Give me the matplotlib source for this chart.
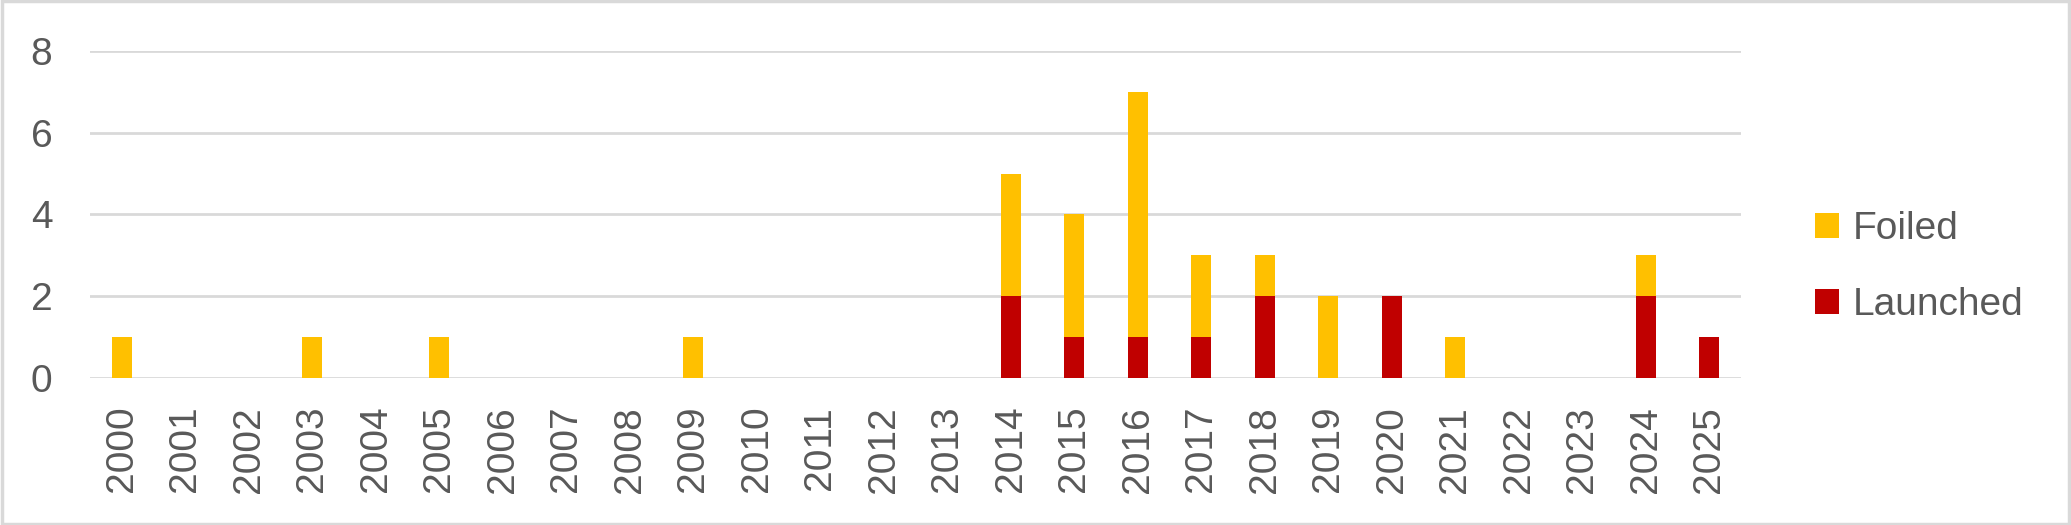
import matplotlib.pyplot as plt
import numpy as np
from matplotlib.patches import Rectangle

years = [str(y) for y in range(2000, 2026)]
launched = [0, 0, 0, 0, 0, 0, 0, 0, 0, 0, 0, 0, 0, 0, 2, 1, 1, 1, 2, 0, 2, 0, 0, 0, 2, 1]
foiled = [1, 0, 0, 1, 0, 1, 0, 0, 0, 1, 0, 0, 0, 0, 3, 3, 6, 2, 1, 2, 0, 1, 0, 0, 1, 0]

text_col = "#595959"
grid_col = "#D9D9D9"
plt.rcParams['font.family'] = ['Liberation Sans', 'DejaVu Sans']

W, H = 2071, 525
fig = plt.figure(figsize=(W / 100, H / 100), dpi=100)
ax = fig.add_axes([90 / W, (H - 378) / H, (1741 - 90) / W, (378 - 51) / H])

x = np.arange(len(years))
b1 = ax.bar(x, launched, width=0.31, color="#C00000", label="Launched", zorder=3)
b2 = ax.bar(x, foiled, width=0.31, bottom=launched, color="#FFC000", label="Foiled", zorder=3)

ax.set_xlim(-0.5, len(years) - 0.5)
ax.set_ylim(0, 8)
ax.set_yticks([0, 2, 4, 6, 8])
ax.set_xticks(x)
ax.set_xticklabels(years, rotation=90)
ax.tick_params(axis='both', length=0, labelsize=28, colors=text_col)
ax.tick_params(axis='x', pad=20)
ax.tick_params(axis='y', pad=27)
ax.grid(axis='y', color=grid_col, linewidth=2, zorder=0)
for s in ax.spines.values():
    s.set_visible(False)

leg = fig.legend([b2, b1], ["Foiled", "Launched"], loc='upper left',
                 bbox_to_anchor=(1796 / W, 1 - 192 / H), frameon=False,
                 fontsize=28, handlelength=0.6, handleheight=0.6,
                 handletextpad=0.35, labelspacing=1.02, borderpad=0)
for t in leg.get_texts():
    t.set_color(text_col)

fig.patches.append(Rectangle((0.001, 0.002), 0.998, 0.996, transform=fig.transFigure,
                             fill=False, edgecolor=grid_col, linewidth=2.5))

fig.savefig("out.png", dpi=100)
